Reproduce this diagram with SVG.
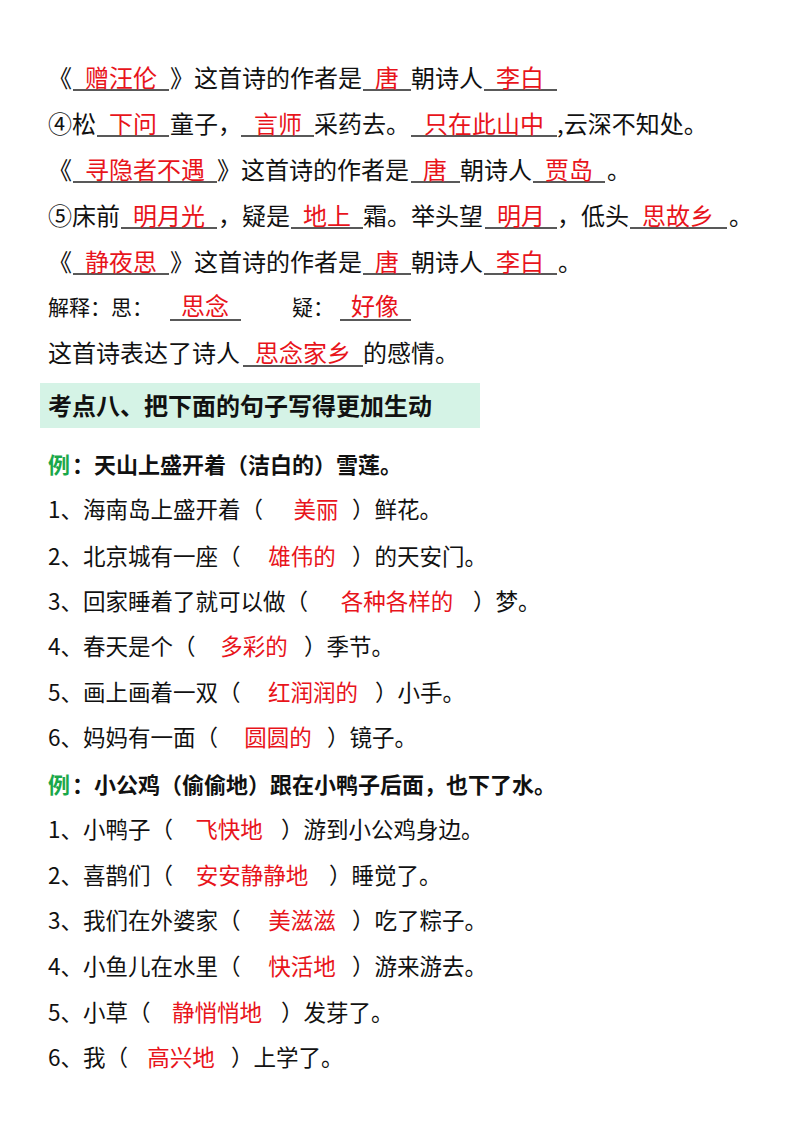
<svg xmlns="http://www.w3.org/2000/svg" width="800" height="1132" viewBox="0 0 800 1132">
<style>
text{font-family:"Noto Sans CJK SC","Noto Sans",sans-serif;fill:#111}
.t{font-size:24px}
.s{font-size:21px}
.m{font-size:22.5px}
.r{fill:#e8141b;text-anchor:middle}
.b{font-weight:bold;font-size:22px}
line{stroke:#222;stroke-width:1.3}
</style>
<rect width="800" height="1132" fill="#fff"/>
<g id="poems">
<text x="48" y="87" class="t">《</text><line x1="73" y1="90" x2="169" y2="90"/><text x="121" y="87" class="t r">赠汪伦</text>
<text x="170" y="87" class="t">》这首诗的作者是</text><line x1="363" y1="90" x2="411" y2="90"/><text x="387" y="87" class="t r">唐</text>
<text x="411" y="87" class="t">朝诗人</text><line x1="484" y1="90" x2="557" y2="90"/><text x="520" y="87" class="t r">李白</text>
<text x="48" y="133" class="t">④松</text><line x1="97" y1="136" x2="169" y2="136"/><text x="133" y="133" class="t r">下问</text>
<text x="170" y="133" class="t">童子，</text><line x1="241" y1="136" x2="314" y2="136"/><text x="278" y="133" class="t r">言师</text>
<text x="314" y="133" class="t">采药去。</text><line x1="411" y1="136" x2="557" y2="136"/><text x="484" y="133" class="t r">只在此山中</text>
<text x="557" y="133" class="t">,云深不知处。</text>
<text x="48" y="179" class="t">《</text><line x1="73" y1="182" x2="217" y2="182"/><text x="145" y="179" class="t r">寻隐者不遇</text>
<text x="217" y="179" class="t">》这首诗的作者是</text><line x1="411" y1="182" x2="460" y2="182"/><text x="435" y="179" class="t r">唐</text>
<text x="460" y="179" class="t">朝诗人</text><line x1="533" y1="182" x2="605" y2="182"/><text x="569" y="179" class="t r">贾岛</text>
<text x="607" y="179" class="t">。</text>
<text x="48" y="225" class="t">⑤床前</text><line x1="121" y1="228" x2="217" y2="228"/><text x="169" y="225" class="t r">明月光</text>
<text x="218" y="225" class="t">，疑是</text><line x1="291" y1="228" x2="363" y2="228"/><text x="327" y="225" class="t r">地上</text>
<text x="363" y="225" class="t">霜。举头望</text><line x1="485" y1="228" x2="557" y2="228"/><text x="521" y="225" class="t r">明月</text>
<text x="557" y="225" class="t">，低头</text><line x1="630" y1="228" x2="727" y2="228"/><text x="678" y="225" class="t r">思故乡</text>
<text x="729" y="225" class="t">。</text>
<text x="48" y="271" class="t">《</text><line x1="73" y1="274" x2="169" y2="274"/><text x="121" y="271" class="t r">静夜思</text>
<text x="170" y="271" class="t">》这首诗的作者是</text><line x1="363" y1="274" x2="411" y2="274"/><text x="387" y="271" class="t r">唐</text>
<text x="411" y="271" class="t">朝诗人</text><line x1="484" y1="274" x2="557" y2="274"/><text x="520" y="271" class="t r">李白</text>
<text x="558" y="271" class="t">。</text>
<text x="48" y="315" class="s">解释：思：</text><line x1="170" y1="320" x2="241" y2="320"/><text x="205" y="315" class="t r">思念</text>
<text x="292" y="315" class="s">疑：</text><line x1="340" y1="320" x2="411" y2="320"/><text x="375" y="315" class="t r">好像</text>
<text x="48" y="362" class="t">这首诗表达了诗人</text><line x1="243" y1="366" x2="363" y2="366"/><text x="303" y="362" class="t r">思念家乡</text>
<text x="363" y="362" class="t">的感情。</text>
</g>
<g id="heading">
<rect x="40" y="383" width="440" height="45" fill="#d5f3e6"/>
<text x="48" y="415" style="font-size:24px;font-weight:bold">考点八、把下面的句子写得更加生动</text>
</g>
<g id="section1">
<text x="48" y="473" class="b" style="fill:#1aa84a">例</text><text x="72" y="473" class="b">：天山上盛开着（洁白的）雪莲。</text>
<text x="48" y="518" class="m">1、海南岛上盛开着（</text><text x="316" y="518" class="m r">美丽</text><text x="352" y="518" class="m">）鲜花。</text>
<text x="48" y="565" class="m">2、北京城有一座（</text><text x="302" y="565" class="m r">雄伟的</text><text x="352" y="565" class="m">）的天安门。</text>
<text x="48" y="610" class="m">3、回家睡着了就可以做（</text><text x="397" y="610" class="m r">各种各样的</text><text x="473" y="610" class="m">）梦。</text>
<text x="48" y="655" class="m">4、春天是个（</text><text x="254" y="655" class="m r">多彩的</text><text x="304" y="655" class="m">）季节。</text>
<text x="48" y="701" class="m">5、画上画着一双（</text><text x="313" y="701" class="m r">红润润的</text><text x="375" y="701" class="m">）小手。</text>
<text x="48" y="746" class="m">6、妈妈有一面（</text><text x="278" y="746" class="m r">圆圆的</text><text x="327" y="746" class="m">）镜子。</text>
</g>
<g id="section2">
<text x="48" y="793" class="b" style="fill:#1aa84a">例</text><text x="72" y="793" class="b">：小公鸡（偷偷地）跟在小鸭子后面，也下了水。</text>
<text x="48" y="838" class="m">1、小鸭子（</text><text x="229" y="838" class="m r">飞快地</text><text x="281" y="838" class="m">）游到小公鸡身边。</text>
<text x="48" y="884" class="m">2、喜鹊们（</text><text x="252" y="884" class="m r">安安静静地</text><text x="329" y="884" class="m">）睡觉了。</text>
<text x="48" y="929" class="m">3、我们在外婆家（</text><text x="302" y="929" class="m r">美滋滋</text><text x="352" y="929" class="m">）吃了粽子。</text>
<text x="48" y="975" class="m">4、小鱼儿在水里（</text><text x="302" y="975" class="m r">快活地</text><text x="352" y="975" class="m">）游来游去。</text>
<text x="48" y="1021" class="m">5、小草（</text><text x="217" y="1021" class="m r">静悄悄地</text><text x="281" y="1021" class="m">）发芽了。</text>
<text x="48" y="1066" class="m">6、我（</text><text x="181" y="1066" class="m r">高兴地</text><text x="231" y="1066" class="m">）上学了。</text>
</g>
</svg>
